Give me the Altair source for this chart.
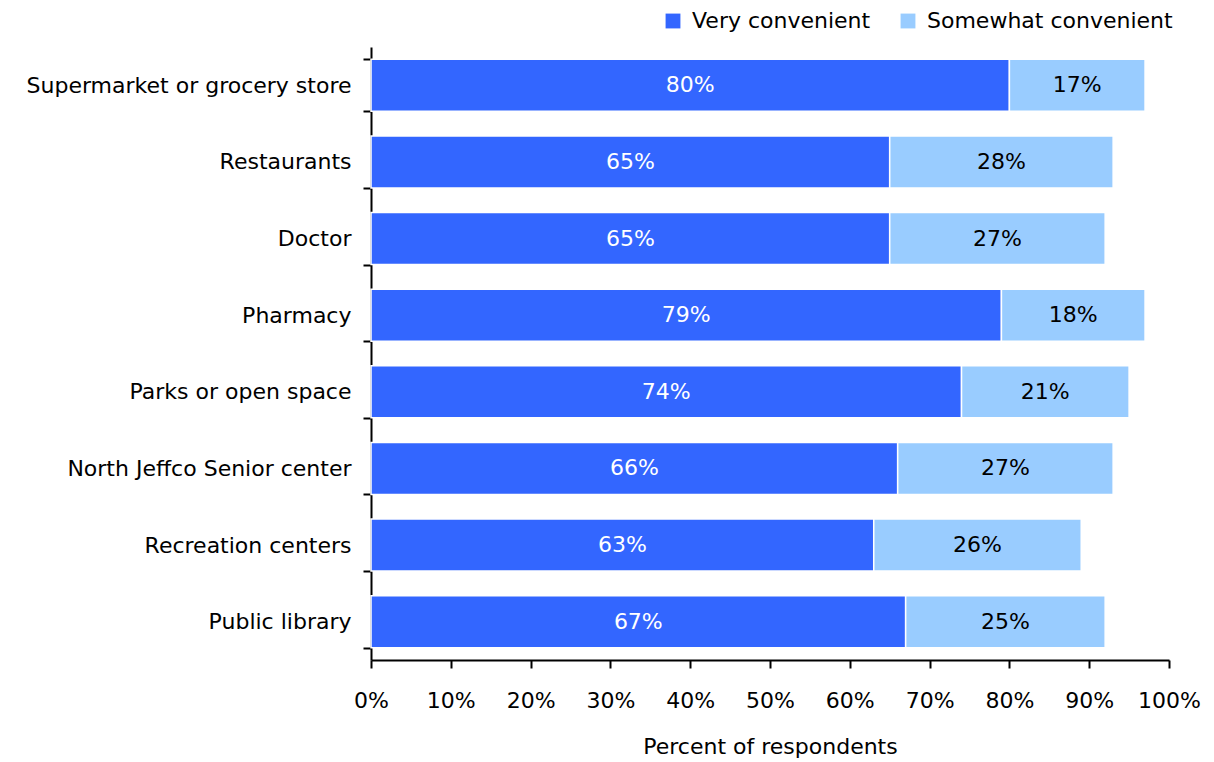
import altair as alt
import pandas as pd

categories = ["Supermarket or grocery store", "Restaurants", "Doctor", "Pharmacy",
              "Parks or open space", "North Jeffco Senior center", "Recreation centers", "Public library"]
very = [80, 65, 65, 79, 74, 66, 63, 67]
somewhat = [17, 28, 27, 18, 21, 27, 26, 25]
series = ["Very convenient", "Somewhat convenient"]
colors = ["#3366FF", "#99CCFF"]
x_ticks = [0, 10, 20, 30, 40, 50, 60, 70, 80, 90, 100]

rows = []
for c, v, s in zip(categories, very, somewhat):
    rows.append({"cat": c, "series": series[0], "val": v, "start": 0, "end": v, "txt": "white"})
    rows.append({"cat": c, "series": series[1], "val": s, "start": v, "end": v + s, "txt": "black"})
df = pd.DataFrame(rows)
df["mid"] = (df["start"] + df["end"]) / 2
df["label"] = df["val"].astype(str) + "%"

FONT = "DejaVu Sans"
FS = 22

y = alt.Y("cat:N", sort=categories, title=None,
          scale=alt.Scale(paddingInner=0.32, paddingOuter=0.16),
          axis=alt.Axis(tickBand="extent", tickSize=8, tickWidth=2, tickColor="black",
                        domainColor="black", domainWidth=2, labelFontSize=FS, labelLimit=400,
                        labelColor="black", labelPadding=12, labelFont=FONT))
xscale = alt.Scale(domain=[0, 100], nice=False)

bars = alt.Chart(df).mark_bar(stroke="white", strokeWidth=1.5).encode(
    x=alt.X("start:Q", scale=xscale, title="Percent of respondents",
            axis=alt.Axis(values=x_ticks, labelExpr="datum.value + '%'", grid=False,
                          labelFlush=False, labelOverlap=False,
                          tickSize=8, tickWidth=2, tickColor="black", domainColor="black",
                          domainWidth=2, labelFontSize=FS, labelColor="black", labelPadding=22,
                          titleFontSize=FS, titleFontWeight="normal", titleColor="black",
                          titlePadding=25, labelFont=FONT, titleFont=FONT)),
    x2="end:Q",
    y=y,
    color=alt.Color("series:N", scale=alt.Scale(domain=series, range=colors), title=None,
                    legend=alt.Legend(orient="none", legendX=291, legendY=-37, direction="horizontal",
                                      symbolType="square", symbolSize=220, symbolStrokeWidth=0,
                                      labelFontSize=FS, labelFont=FONT, labelColor="black",
                                      labelLimit=400, columnPadding=26, labelOffset=8)),
)

text = alt.Chart(df).mark_text(fontSize=FS, font=FONT).encode(
    x=alt.X("mid:Q", scale=xscale),
    y=alt.Y("cat:N", sort=categories),
    text="label:N",
    color=alt.Color("txt:N", scale=None),
)

chart = alt.layer(bars, text).properties(
    width=798, height=613,
    autosize=alt.AutoSizeParams(type="none"),
    padding={"left": 371, "top": 47, "right": 45, "bottom": 102},
    background="white",
).configure_view(stroke=None)

chart.save("out.html", embed_options={"renderer": "svg", "actions": False})
